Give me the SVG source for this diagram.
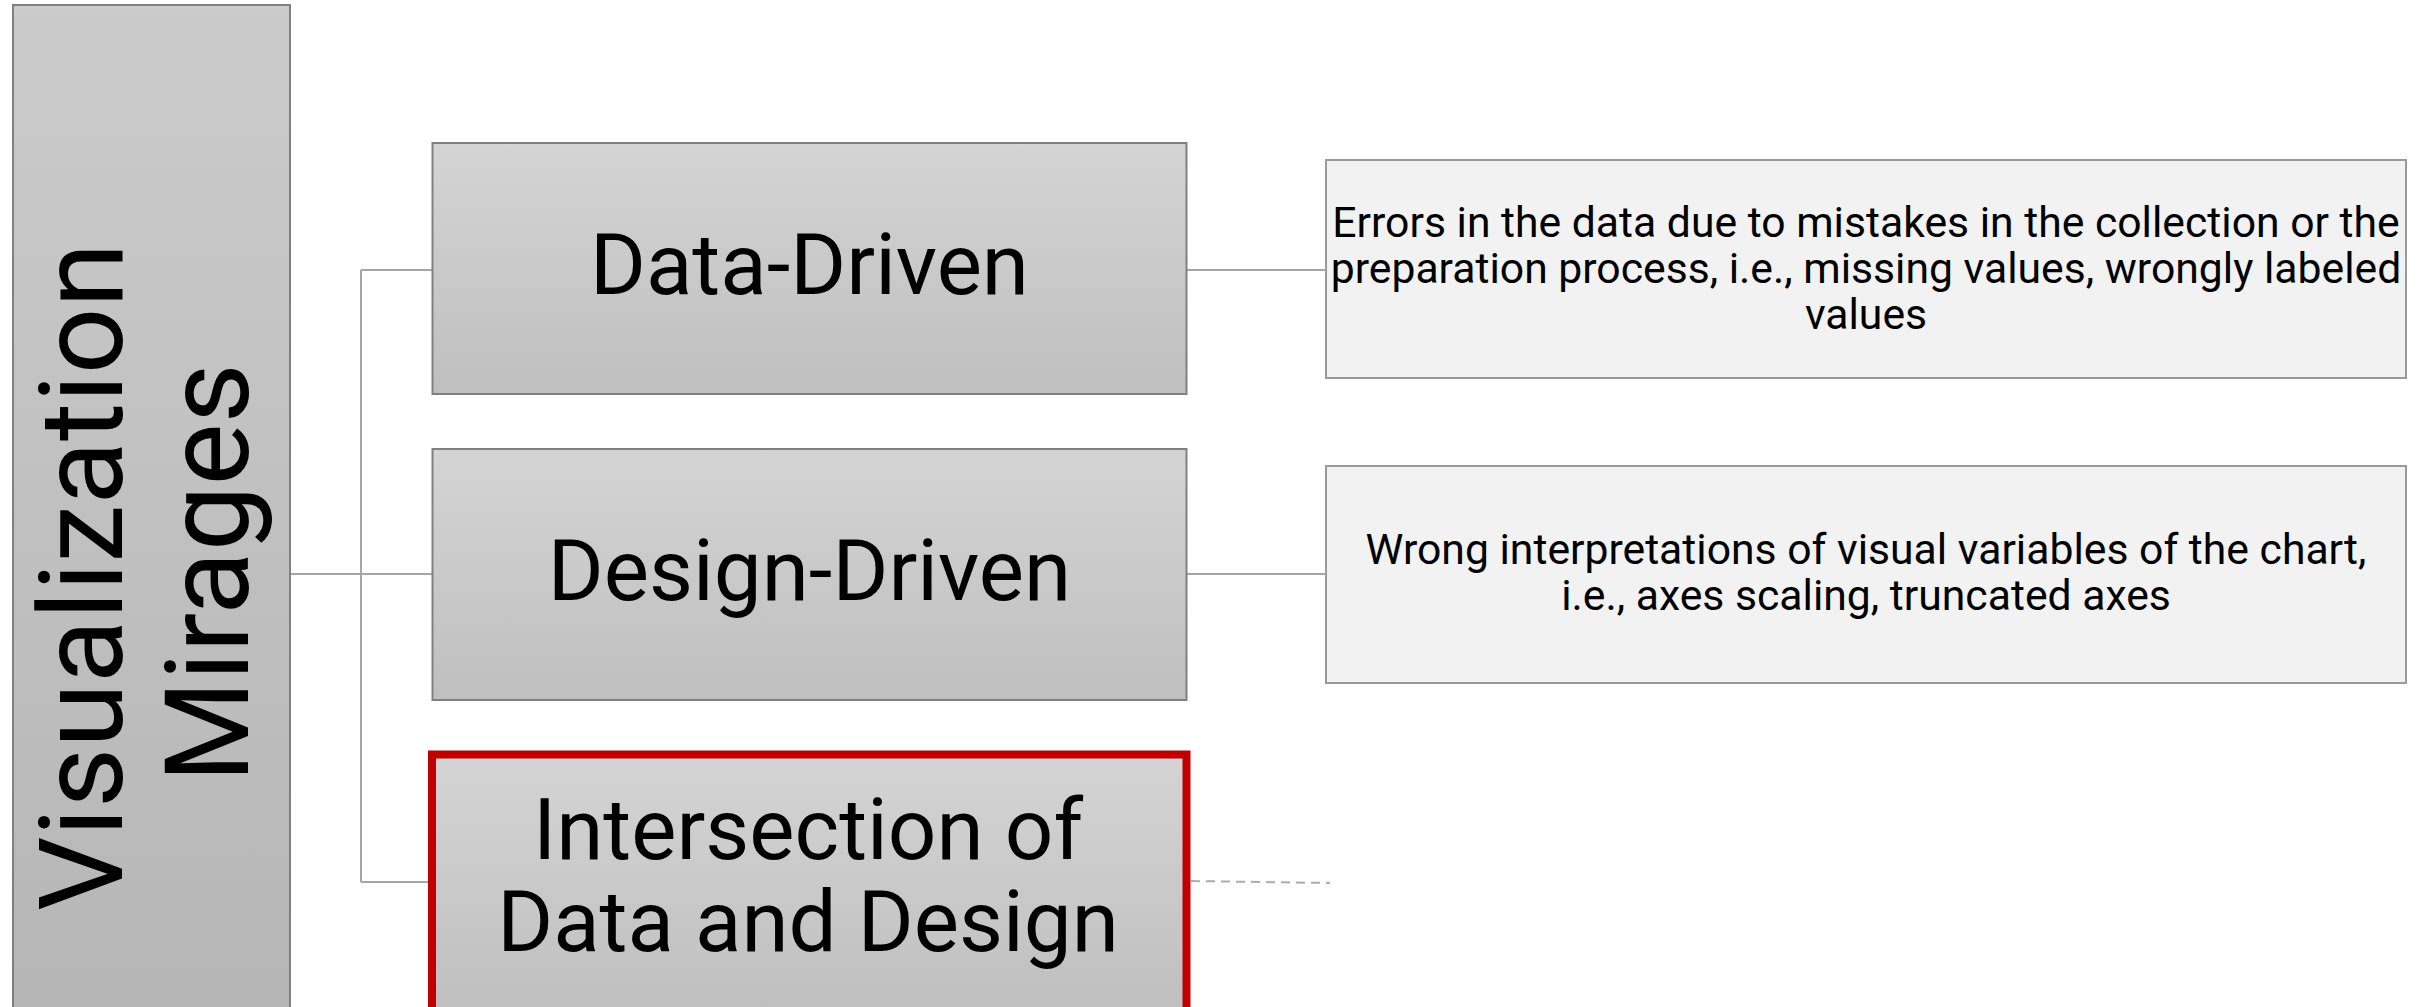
<svg xmlns="http://www.w3.org/2000/svg" width="2428" height="1007" viewBox="0 0 2428 1007">
<defs>
<linearGradient id="gRoot" x1="0" y1="0" x2="0" y2="1">
<stop offset="0" stop-color="#cbcbcb"/>
<stop offset="1" stop-color="#b3b3b3"/>
</linearGradient>
<linearGradient id="gBranch" x1="0" y1="0" x2="0" y2="1">
<stop offset="0" stop-color="#d4d4d4"/>
<stop offset="1" stop-color="#bfbfbf"/>
</linearGradient>
</defs>
<style>
.box{fill:url(#gBranch);stroke:#808080;stroke-width:2}
.desc{fill:#f2f2f2;stroke:#9a9a9a;stroke-width:2}
.big{font-family:Roboto,"Liberation Sans",sans-serif;font-size:85.3px;fill:#000;text-anchor:middle}
.small{font-family:Roboto,"Liberation Sans",sans-serif;font-size:42.7px;fill:#000;text-anchor:middle}
.root{font-family:Roboto,"Liberation Sans",sans-serif;font-size:117px;fill:#000;text-anchor:middle}
.conn{fill:none;stroke:#a6a6a6;stroke-width:2}
.dash{fill:none;stroke:#ababab;stroke-width:2;stroke-dasharray:9 6}
</style>
<rect width="2428" height="1007" fill="#fff"/>
<g id="connectors">
<path class="conn" d="M290 574 H361 M361 270 V882 M361 270 H432 M361 574 H432 M361 882 H428 M1187 270 H1326 M1187 574 H1326"/>
<path class="dash" d="M1191 881 L1330 883"/>
</g>
<g id="root">
<rect x="13" y="5" width="277" height="1140" fill="url(#gRoot)" stroke="#808080" stroke-width="2"/>
<text class="root" transform="rotate(-90)"><tspan x="-577" y="122">Visualization</tspan><tspan x="-573" y="248">Mirages</tspan></text>
</g>
<g id="data-driven">
<rect class="box" x="432.5" y="143" width="754" height="251"/>
<text class="big" x="809.5" y="294">Data-Driven</text>
</g>
<g id="design-driven">
<rect class="box" x="432.5" y="449" width="754" height="251"/>
<text class="big" x="809.5" y="600">Design-Driven</text>
</g>
<g id="intersection">
<rect class="box" x="432.5" y="754.5" width="754" height="260"/>
<rect x="432" y="754.5" width="754.5" height="270" fill="none" stroke="#c00000" stroke-width="8"/>
<text class="big" x="808" y="859">Intersection of</text>
<text class="big" x="808" y="951">Data and Design</text>
</g>
<g id="data-desc">
<rect class="desc" x="1326" y="160" width="1080" height="218"/>
<text class="small" x="1866" y="237">Errors in the data due to mistakes in the collection or the</text>
<text class="small" x="1866" y="283">preparation process, i.e., missing values, wrongly labeled</text>
<text class="small" x="1866" y="329">values</text>
</g>
<g id="design-desc">
<rect class="desc" x="1326" y="466" width="1080" height="217"/>
<text class="small" x="1866" y="564">Wrong interpretations of visual variables of the chart,</text>
<text class="small" x="1866" y="610">i.e., axes scaling, truncated axes</text>
</g>
</svg>
